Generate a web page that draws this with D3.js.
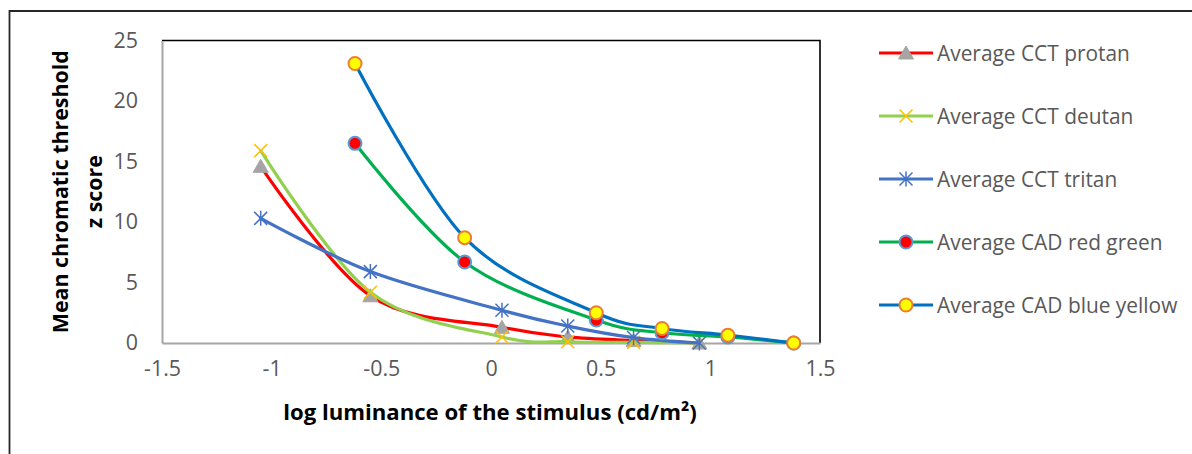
<!DOCTYPE html>
<html><head><meta charset="utf-8">
<script src="https://cdn.jsdelivr.net/npm/d3@7"></script>
<style>
html,body{margin:0;padding:0;background:#fff;}
svg{display:block;font-family:"Open Sans",Lato,sans-serif;}
</style></head>
<body><svg id="c" width="1192" height="454"></svg>
<script>
const cctX = [-1.05, -0.55, 0.05, 0.35, 0.65, 0.95];
const cadX = [-0.62, -0.12, 0.48, 0.78, 1.08, 1.38];
const protan = [14.6, 3.9, 1.3, 0.5, 0.2, 0.0];
const deutan = [15.9, 4.2, 0.5, 0.1, 0.05, 0.0];
const tritan = [10.3, 5.9, 2.7, 1.4, 0.45, 0.0];
const cadRG = [16.5, 6.7, 1.9, 0.85, 0.5, 0.0];
const cadBY = [23.1, 8.7, 2.5, 1.2, 0.65, 0.0];
const seriesNames = ["Average CCT protan","Average CCT deutan","Average CCT tritan","Average CAD red green","Average CAD blue yellow"];
const xTicks = [-1.5,-1,-0.5,0,0.5,1,1.5];
const yTicks = [0,5,10,15,20,25];
const xTitle = "log luminance of the stimulus (cd/m²)";
const yTitle = ["Mean chromatic threshold","z score"];

const series = [
  {name:seriesNames[0], xs:cctX, ys:protan, color:"#FF0000", marker:"triangle", mfill:"#A5A5A5", mstroke:"#A5A5A5"},
  {name:seriesNames[1], xs:cctX, ys:deutan, color:"#92D050", marker:"x", mfill:"none", mstroke:"#FFC000"},
  {name:seriesNames[2], xs:cctX, ys:tritan, color:"#4472C4", marker:"star", mfill:"none", mstroke:"#4472C4"},
  {name:seriesNames[3], xs:cadX, ys:cadRG, color:"#00B050", marker:"circle", mfill:"#FF0000", mstroke:"#5B9BD5"},
  {name:seriesNames[4], xs:cadX, ys:cadBY, color:"#0070C0", marker:"circle", mfill:"#FFFF00", mstroke:"#ED7D31"}
];

const svg = d3.select("#c");
const L=162, R=820, T=40.5, B=343;
const x = d3.scaleLinear().domain([-1.5,1.5]).range([L,R]);
const y = d3.scaleLinear().domain([0,25]).range([B,T]);

// fit a font size so that a sample string has a target width
function fitSize(str, target, weight){
  const t = svg.append("text").style("font-size","20px").style("font-weight",weight||"normal").text(str);
  const w = t.node().getComputedTextLength();
  t.remove();
  return 20*target/w;
}
const tickFS = fitSize("-1.5", 37);
const legFS = fitSize(seriesNames[0], 193);
const xtFS = fitSize(xTitle, 414, "bold");
const ytFS = fitSize(yTitle[0], 283, "bold");

// outer chart border (partial, as in reference)
svg.append("path").attr("d","M9.5,454 L9.5,11 L1192,11").attr("fill","none").attr("stroke","#262626").attr("stroke-width",1.8);

// plot frame: top & right black
svg.append("path").attr("d",`M${L},${T} L${R},${T} L${R},${B}`).attr("fill","none").attr("stroke","#000").attr("stroke-width",1.6);

// axes via d3
const yAxis = d3.axisLeft(y).tickValues(yTicks).tickSize(0).tickPadding(24).tickFormat(d3.format("d"));
const xAxis = d3.axisBottom(x).tickValues(xTicks).tickSize(0).tickPadding(18).tickFormat(d=>String(d));
const gy = svg.append("g").attr("transform",`translate(${L},0)`).call(yAxis);
const gx = svg.append("g").attr("transform",`translate(0,${B})`).call(xAxis);
[gx,gy].forEach(g=>{
  g.select(".domain").attr("stroke","#A6A6A6").attr("stroke-width",2);
  g.selectAll("text").attr("fill","#595959").style("font-size",tickFS+"px").style("font-family","'Open Sans',Lato,sans-serif");
});

const line = d3.line().x(d=>x(d[0])).y(d=>y(d[1])).curve(d3.curveCardinal.tension(0));

function drawMarker(g, type, cx, cy, fill, stroke){
  if(type==="triangle"){
    g.append("path").attr("d",`M${cx},${cy-7} L${cx+7.5},${cy+6} L${cx-7.5},${cy+6} Z`).attr("fill",fill).attr("stroke",stroke).attr("stroke-width",1);
  } else if(type==="x"){
    const s=6.5;
    g.append("path").attr("d",`M${cx-s},${cy-s} L${cx+s},${cy+s} M${cx-s},${cy+s} L${cx+s},${cy-s}`).attr("stroke",stroke).attr("stroke-width",1.5).attr("fill","none");
  } else if(type==="star"){
    const s=6.5;
    g.append("path").attr("d",`M${cx-s},${cy-s} L${cx+s},${cy+s} M${cx-s},${cy+s} L${cx+s},${cy-s} M${cx},${cy-s-1} L${cx},${cy+s+1}`).attr("stroke",stroke).attr("stroke-width",1.5).attr("fill","none");
  } else {
    g.append("circle").attr("cx",cx).attr("cy",cy).attr("r",6.5).attr("fill",fill).attr("stroke",stroke).attr("stroke-width",2);
  }
}

series.forEach(s=>{
  const g = svg.append("g");
  const pts = s.xs.map((v,i)=>[v,s.ys[i]]);
  g.append("path").attr("d",line(pts)).attr("fill","none").attr("stroke",s.color).attr("stroke-width",3.2).attr("stroke-linecap","round");
  pts.forEach(p=>drawMarker(g,s.marker,x(p[0]),y(p[1]),s.mfill,s.mstroke));
});

// legend
const legY = [53,116,179,242,305];
series.forEach((s,i)=>{
  const g = svg.append("g");
  g.append("line").attr("x1",879).attr("x2",933).attr("y1",legY[i]).attr("y2",legY[i]).attr("stroke",s.color).attr("stroke-width",3.2);
  drawMarker(g,s.marker,906,legY[i],s.mfill,s.mstroke);
  g.append("text").attr("x",937).attr("y",legY[i]).attr("dy","0.36em").attr("fill","#595959").style("font-size",legFS+"px").text(s.name);
});

// axis titles
svg.append("text").attr("x",490).attr("y",412).attr("dy","0.35em").attr("text-anchor","middle")
  .style("font-size",xtFS+"px").style("font-weight","bold").attr("fill","#000").text(xTitle);
const yt = svg.append("text").attr("transform",`translate(62,${(T+B)/2}) rotate(-90)`).attr("text-anchor","middle")
  .style("font-size",ytFS+"px").style("font-weight","bold").attr("fill","#000");
yt.append("tspan").attr("x",0).attr("dy","0.3em").text(yTitle[0]);
yt.append("tspan").attr("x",0).attr("dy","1.55em").text(yTitle[1]);
</script></body></html>
